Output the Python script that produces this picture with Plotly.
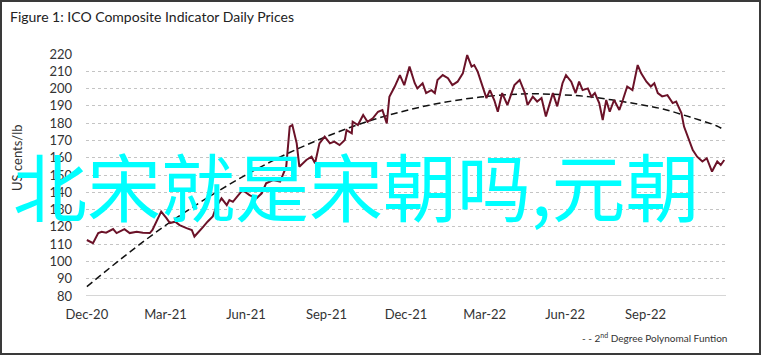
import pandas as pd
import plotly.graph_objects as go

start_date = "2020-12-01"

# ICO composite indicator (US cents/lb): day offsets from start_date and values
price_days = [0, 5, 7, 13, 17, 22, 30, 34, 43, 49, 57, 64, 72, 75, 85, 91, 95, 101, 106, 114,
              120, 123, 127, 133, 138, 144, 148, 154, 160, 163, 167, 173, 178, 186, 194, 200,
              205, 213, 221, 228, 232, 235, 240, 243, 251, 257, 261, 266, 272, 278, 283, 289,
              295, 297, 303, 304, 310, 316, 321, 327, 333, 338, 343, 346, 352, 358, 363, 369,
              375, 378, 384, 388, 394, 398, 401, 407, 413, 418, 424, 430, 435, 440, 443, 447,
              451, 457, 461, 466, 470, 475, 481, 489, 495, 501, 504, 510, 515, 520, 525, 533,
              538, 544, 548, 554, 559, 563, 567, 573, 577, 581, 586, 590, 594, 598, 603, 609,
              613, 618, 624, 630, 634, 640, 645, 649, 653, 658, 664, 670, 674, 680, 683, 689,
              693, 698, 704, 709, 715, 721, 725, 729]
price_values = [112.4, 111.4, 110.6, 116.4, 117.2, 116.6, 118.7, 116.4, 118.7, 116.4, 117.2, 116.6,
                116.4, 118.2, 128.8, 125.0, 122.2, 123.0, 121.0, 119.3, 118.2, 114.4, 116.4, 120.0,
                123.0, 126.0, 131.7, 136.5, 132.6, 135.5, 134.5, 138.4, 141.3, 138.4, 136.5, 139.4,
                145.2, 147.1, 146.2, 154.8, 178.0, 178.9, 168.3, 154.8, 158.7, 160.6, 156.8, 168.3,
                172.2, 168.3, 169.3, 167.3, 170.2, 176.0, 174.1, 180.8, 178.9, 184.7, 180.8, 182.8,
                186.6, 187.6, 179.9, 195.3, 201.0, 207.8, 202.0, 212.7, 203.1, 200.1, 203.1, 197.4,
                199.1, 197.4, 205.0, 207.8, 206.0, 202.0, 204.0, 208.8, 219.4, 212.7, 213.6, 209.8,
                203.1, 194.5, 199.1, 193.2, 186.6, 197.4, 190.5, 202.0, 205.0, 197.4, 190.5, 195.3,
                192.5, 194.5, 183.9, 197.4, 189.7, 203.1, 207.8, 204.0, 197.4, 204.0, 199.1, 200.1,
                195.3, 197.4, 191.6, 181.8, 193.4, 186.6, 193.4, 187.6, 193.4, 201.2, 199.1, 213.6,
                208.8, 204.0, 201.2, 203.1, 197.4, 195.5, 196.2, 191.6, 192.5, 185.8, 178.0, 170.2,
                164.4, 160.6, 157.8, 159.7, 152.0, 157.8, 155.8, 158.7]

# 2nd degree polynomial trend
trend_days = [0, 30, 60, 90, 120, 150, 180, 210, 240, 270, 300, 330, 360, 390, 420, 450, 480,
              510, 540, 570, 600, 630, 660, 690, 720, 729]
trend_values = [85.4, 97.8, 109.7, 120.9, 131.1, 140.6, 149.5, 157.6, 164.9, 171.4, 177.3, 182.4,
                186.6, 190.2, 193.0, 195.1, 196.4, 197.0, 196.5, 195.5, 193.5, 191.0, 188.0, 183.5,
                178.5, 176.0]

x_ticks = ["2020-12-01", "2021-03-01", "2021-06-01", "2021-09-01", "2021-12-01",
           "2022-03-01", "2022-06-01", "2022-09-01"]
x_tick_labels = ["Dec-20", "Mar-21", "Jun-21", "Sep-21", "Dec-21", "Mar-22", "Jun-22", "Sep-22"]
y_ticks = [80, 90, 100, 110, 120, 130, 140, 150, 160, 170, 180, 190, 200, 210, 220]

title_text = "Figure 1: ICO Composite Indicator Daily Prices"
y_title = "US cents/lb"
legend_text = "- - 2<sup>nd</sup> Degree Polynomal Funtion"
watermark = "北宋就是宋朝吗,元朝"

t0 = pd.Timestamp(start_date)
price_dates = [t0 + pd.Timedelta(days=d) for d in price_days]
trend_dates = [t0 + pd.Timedelta(days=d) for d in trend_days]

fig = go.Figure()
fig.add_trace(go.Scatter(x=trend_dates, y=trend_values, mode="lines", line_shape="spline",
                         line=dict(color="#111111", width=1.5, dash="7px,4px"),
                         showlegend=False, hoverinfo="skip"))
fig.add_trace(go.Scatter(x=price_dates, y=price_values, mode="lines",
                         line=dict(color="#6b1228", width=2), showlegend=False))

W, H = 762, 356
L, R, T, B = 86, 36, 54, 60
pw, ph = W - L - R, H - T - B


def px(x):
    return (x - L) / pw


def py(y):
    return (H - B - y) / ph


font = "Lato, 'Open Sans', sans-serif"

fig.update_layout(
    width=W, height=H,
    margin=dict(l=L, r=R, t=T, b=B, pad=0, autoexpand=False),
    paper_bgcolor="white", plot_bgcolor="white",
    font=dict(family=font, size=13, color="#333333"),
    xaxis=dict(
        type="date", automargin=False,
        range=[t0 - pd.Timedelta(days=1), t0 + pd.Timedelta(days=731)],
        tickvals=[pd.Timestamp(v) for v in x_ticks], ticktext=x_tick_labels,
        showgrid=False, zeroline=False, showline=False,
        ticks="", ticklabelstandoff=9,
        tickfont=dict(size=13, color="#333333"),
    ),
    yaxis=dict(
        range=[80, 220], tickvals=y_ticks, automargin=False,
        showgrid=True, gridcolor="#c4c4c4", griddash="dot", gridwidth=1,
        zeroline=False, showline=False, ticks="", ticklabelstandoff=13,
        tickfont=dict(size=13, color="#333333"),
    ),
    shapes=[
        dict(type="line", xref="paper", yref="y", x0=0, x1=1, y0=80, y1=80,
             line=dict(color="#d6d6d6", width=2), layer="below"),
        dict(type="rect", xref="paper", yref="paper",
             x0=px(1), x1=px(760), y0=py(354), y1=py(1),
             line=dict(color="#3a3a3a", width=2)),
    ],
    annotations=[
        dict(text=title_text, xref="paper", yref="paper", x=px(8), y=py(16),
             xanchor="left", yanchor="middle", showarrow=False,
             font=dict(size=14, color="#222222", family=font)),
        dict(text=y_title, xref="paper", yref="paper", x=px(17), y=py(158),
             xanchor="center", yanchor="middle", textangle=-90, showarrow=False,
             font=dict(size=13, color="#333333", family=font)),
        dict(text=legend_text, xref="paper", yref="paper", x=px(729), y=py(337),
             xanchor="right", yanchor="middle", showarrow=False,
             font=dict(size=10, color="#333333", family=font)),
        dict(text=watermark, xref="paper", yref="paper", x=px(356), y=py(183),
             xanchor="center", yanchor="middle", showarrow=False,
             font=dict(size=74, color="#00ffff", family="'Noto Sans CJK SC', sans-serif")),
    ],
)

fig.write_html(
    "out.html",
    config={"displayModeBar": False},
    post_script="document.body.style.margin='0';document.body.style.overflow='hidden';",
)
